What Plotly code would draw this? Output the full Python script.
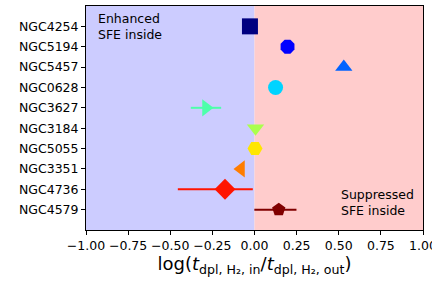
import plotly.graph_objects as go

galaxies = ["NGC4254", "NGC5194", "NGC5457", "NGC0628", "NGC3627",
            "NGC3184", "NGC5055", "NGC3351", "NGC4736", "NGC4579"]
log_ratio = [-0.027, 0.196, 0.53, 0.125, -0.288, 0.006, 0.003, -0.08, -0.175, 0.144]
err_plus = [0.0, 0.0, 0.02, 0.0, 0.09, 0.015, 0.0, 0.0, 0.165, 0.105]
err_minus = [0.0, 0.0, 0.02, 0.0, 0.09, 0.015, 0.0, 0.0, 0.28, 0.145]
colors = ["#000080", "#0000ff", "#0063ff", "#00d4ff", "#4dffaa",
          "#aaff4d", "#ffe600", "#ff7d00", "#ff1400", "#800000"]
symbols = ["square", "octagon", "triangle-up", "circle", "triangle-right",
           "triangle-down", "hexagon2", "triangle-left", "diamond", "pentagon"]
sizes = [16, 15, 15, 15, 15, 15, 15, 15, 16, 14]
xticks = [-1.0, -0.75, -0.5, -0.25, 0.0, 0.25, 0.5, 0.75, 1.0]

FS = 12.5

fig = go.Figure()
for g, v, ep, em, c, s, sz in zip(galaxies, log_ratio, err_plus, err_minus, colors, symbols, sizes):
    fig.add_trace(go.Scatter(
        x=[v], y=[g], mode="markers",
        marker=dict(symbol=s, color=c, size=sz, line=dict(width=0)),
        error_x=dict(type="data", symmetric=False, array=[ep], arrayminus=[em],
                     color=c, thickness=2, width=0, visible=ep > 0 or em > 0),
        showlegend=False,
    ))

fig.add_shape(type="rect", xref="x", yref="paper", x0=-1, x1=0, y0=0, y1=1,
              fillcolor="#ccccff", line=dict(width=0), layer="below")
fig.add_shape(type="rect", xref="x", yref="paper", x0=0, x1=1, y0=0, y1=1,
              fillcolor="#ffcccc", line=dict(width=0), layer="below")

fig.add_annotation(x=-0.94, y=0.985, xref="x", yref="paper", text="Enhanced<br>SFE inside",
                   showarrow=False, xanchor="left", yanchor="top", align="left",
                   font=dict(family="DejaVu Sans", size=FS, color="black"))
fig.add_annotation(x=0.5, y=0.045, xref="x", yref="paper", text="Suppressed<br>SFE inside",
                   showarrow=False, xanchor="left", yanchor="bottom", align="left",
                   font=dict(family="DejaVu Sans", size=FS, color="black"))

fig.update_layout(
    width=432, height=288,
    margin=dict(l=86, r=9, t=6, b=58, autoexpand=False),
    paper_bgcolor="white", plot_bgcolor="white",
    font=dict(family="DejaVu Sans", size=FS, color="black"),
    xaxis=dict(range=[-1, 1], tickvals=xticks, tickformat=".2f", tickangle=0,
               tickfont=dict(family="DejaVu Sans", size=FS, color="black"),
               ticklabeloverflow="allow", automargin=False,
               showgrid=False, zeroline=False, showline=True, linecolor="black",
               linewidth=1, mirror=True, ticks="outside", ticklen=4, tickcolor="black"),
    yaxis=dict(type="category", categoryorder="array", categoryarray=galaxies,
               tickfont=dict(family="DejaVu Sans", size=FS, color="black"),
               automargin=False,
               range=[10, -1], showgrid=False, zeroline=False, showline=True,
               linecolor="black", linewidth=1, mirror=True, ticks="outside",
               ticklen=4, tickcolor="black"),
)
fig.update_xaxes(title=dict(
    text="log(<i>t</i><sub>dpl, H₂, in</sub>/<i>t</i><sub>dpl, H₂, out</sub>)",
    font=dict(family="DejaVu Sans", size=18), standoff=4))

fig.write_html("out.html", config={"displayModeBar": False},
               post_script="document.body.style.margin='0';")
